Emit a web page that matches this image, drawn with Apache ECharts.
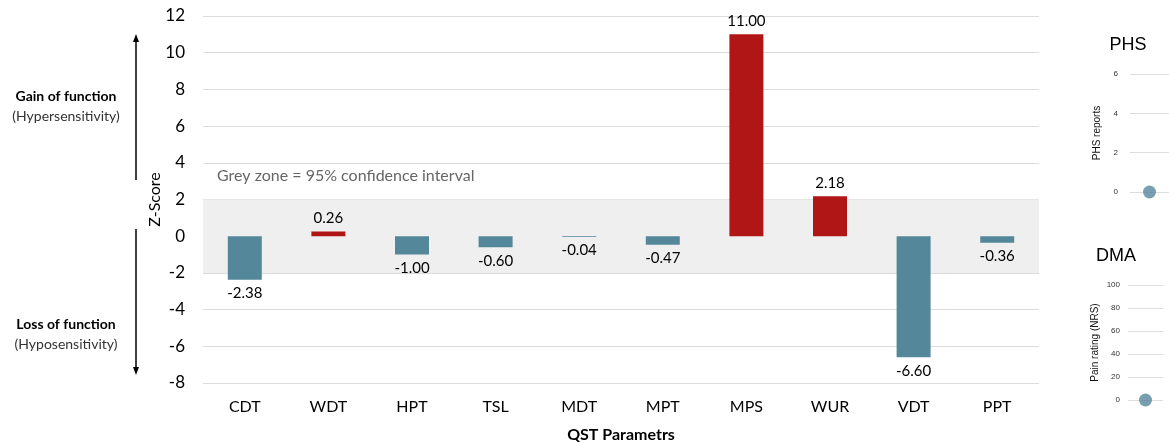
<!DOCTYPE html>
<html><head><meta charset="utf-8">
<script src="https://cdn.jsdelivr.net/npm/echarts@6/dist/echarts.min.js"></script>
<style>html,body{margin:0;padding:0;background:#fff}#c{width:1169px;height:443px}</style>
</head><body><div id="c"></div>
<script>
const categories = ['CDT','WDT','HPT','TSL','MDT','MPT','MPS','WUR','VDT','PPT'];
const zScores = [-2.38, 0.26, -1.00, -0.60, -0.04, -0.47, 11.00, 2.18, -6.60, -0.36];
const yTicks = {min: -8, max: 12, interval: 2};
const phsValues = [0];
const dmaValues = [0];
const RED = '#b01616', BLUE = '#55879b';
const F = 'Lato, "Open Sans", sans-serif';

const chart = echarts.init(document.getElementById('c'));
chart.setOption({
  animation: false,
  grid: [
    {left: 203, right: 130, top: 16, bottom: 60, outerBoundsMode: 'none', containLabel: false},
    {left: 1130, right: 0, top: 74, bottom: 251, outerBoundsMode: 'none', containLabel: false},
    {left: 1128, right: 6, top: 285, bottom: 43, outerBoundsMode: 'none', containLabel: false}
  ],
  xAxis: [
    {gridIndex: 0, type: 'category', data: categories, axisLine: {show: false}, axisTick: {show: false},
     axisLabel: {fontSize: 16, color: '#000', fontFamily: F, margin: 16},
     name: 'QST Parametrs', nameLocation: 'middle', nameGap: 44, nameMoveOverlap: false,
     nameTextStyle: {fontSize: 16, fontWeight: 'bold', color: '#000', fontFamily: F}},
    {gridIndex: 1, type: 'category', data: ['PHS'], axisLine: {show: false}, axisTick: {show: false}, axisLabel: {show: false}},
    {gridIndex: 2, type: 'category', data: ['DMA'], axisLine: {show: false}, axisTick: {show: false}, axisLabel: {show: false}}
  ],
  yAxis: [
    {gridIndex: 0, type: 'value', min: yTicks.min, max: yTicks.max, interval: yTicks.interval,
     axisLine: {show: false}, axisTick: {show: false},
     axisLabel: {fontSize: 17, color: '#000', fontFamily: F, margin: 18},
     splitLine: {lineStyle: {color: '#dcdcdc', width: 1}},
     name: 'Z-Score', nameLocation: 'middle', nameGap: 40, nameRotate: 90, nameMoveOverlap: false,
     nameTextStyle: {fontSize: 16, color: '#000', fontFamily: F}},
    {gridIndex: 1, type: 'value', min: 0, max: 6, interval: 2, axisLine: {show: false}, axisTick: {show: false},
     axisLabel: {fontSize: 8, color: '#333', fontFamily: 'Liberation Sans, Arial, sans-serif', margin: 12},
     splitLine: {lineStyle: {color: '#dddddd'}},
     name: 'PHS reports', nameLocation: 'middle', nameGap: 28, nameRotate: 90, nameMoveOverlap: false,
     nameTextStyle: {fontSize: 10, color: '#111', fontFamily: 'Liberation Sans, Arial, sans-serif'}},
    {gridIndex: 2, type: 'value', min: 0, max: 100, interval: 20, axisLine: {show: false}, axisTick: {show: false},
     axisLabel: {fontSize: 8, color: '#333', fontFamily: 'Liberation Sans, Arial, sans-serif', margin: 8},
     splitLine: {lineStyle: {color: '#dddddd'}},
     name: 'Pain rating (NRS)', nameLocation: 'middle', nameGap: 28, nameRotate: 90, nameMoveOverlap: false,
     nameTextStyle: {fontSize: 10, color: '#111', fontFamily: 'Liberation Sans, Arial, sans-serif'}}
  ],
  series: [
    {type: 'bar', xAxisIndex: 0, yAxisIndex: 0, barWidth: 34,
     data: zScores.map(v => ({value: v, itemStyle: {color: v > 0 ? RED : BLUE},
       label: {position: v >= 0 ? 'top' : 'bottom'}})),
     label: {show: true, fontSize: 15, color: '#000', fontFamily: F, distance: 6,
       formatter: p => p.value.toFixed(2)},
     markArea: {silent: true, itemStyle: {color: '#efefef'}, data: [[{yAxis: -2}, {yAxis: 2}]]},
     z: 3},
    {type: 'scatter', xAxisIndex: 1, yAxisIndex: 1, data: phsValues, symbolSize: 13, itemStyle: {color: BLUE}},
    {type: 'scatter', xAxisIndex: 2, yAxisIndex: 2, data: dmaValues, symbolSize: 13, itemStyle: {color: BLUE}}
  ],
  graphic: [
    {type: 'text', left: 217, top: 168, style: {text: 'Grey zone = 95% confidence interval', fontSize: 16, fill: '#666', fontFamily: F}},
    {type: 'text', x: 66, y: 96, style: {text: 'Gain of function', fontSize: 14, fontWeight: 'bold', fill: '#000', fontFamily: F, align: 'center', verticalAlign: 'middle'}},
    {type: 'text', x: 66, y: 116, style: {text: '(Hypersensitivity)', fontSize: 14, fill: '#333', fontFamily: F, align: 'center', verticalAlign: 'middle'}},
    {type: 'text', x: 66, y: 324, style: {text: 'Loss of function', fontSize: 14, fontWeight: 'bold', fill: '#000', fontFamily: F, align: 'center', verticalAlign: 'middle'}},
    {type: 'text', x: 66, y: 344, style: {text: '(Hyposensitivity)', fontSize: 14, fill: '#333', fontFamily: F, align: 'center', verticalAlign: 'middle'}},
    {type: 'line', shape: {x1: 136, y1: 40, x2: 136, y2: 180}, style: {stroke: '#000', lineWidth: 1.5}},
    {type: 'polygon', shape: {points: [[136, 34], [133, 42], [139, 42]]}, style: {fill: '#000'}},
    {type: 'line', shape: {x1: 136, y1: 229, x2: 136, y2: 369}, style: {stroke: '#000', lineWidth: 1.5}},
    {type: 'polygon', shape: {points: [[136, 375], [133, 367], [139, 367]]}, style: {fill: '#000'}},
    {type: 'text', x: 1128, y: 45, style: {text: 'PHS', fontSize: 18, fill: '#000', fontFamily: 'Liberation Sans, Arial, sans-serif', align: 'center', verticalAlign: 'middle'}},
    {type: 'text', x: 1116, y: 256, style: {text: 'DMA', fontSize: 18, fill: '#000', fontFamily: 'Liberation Sans, Arial, sans-serif', align: 'center', verticalAlign: 'middle'}}
  ]
});
</script></body></html>
